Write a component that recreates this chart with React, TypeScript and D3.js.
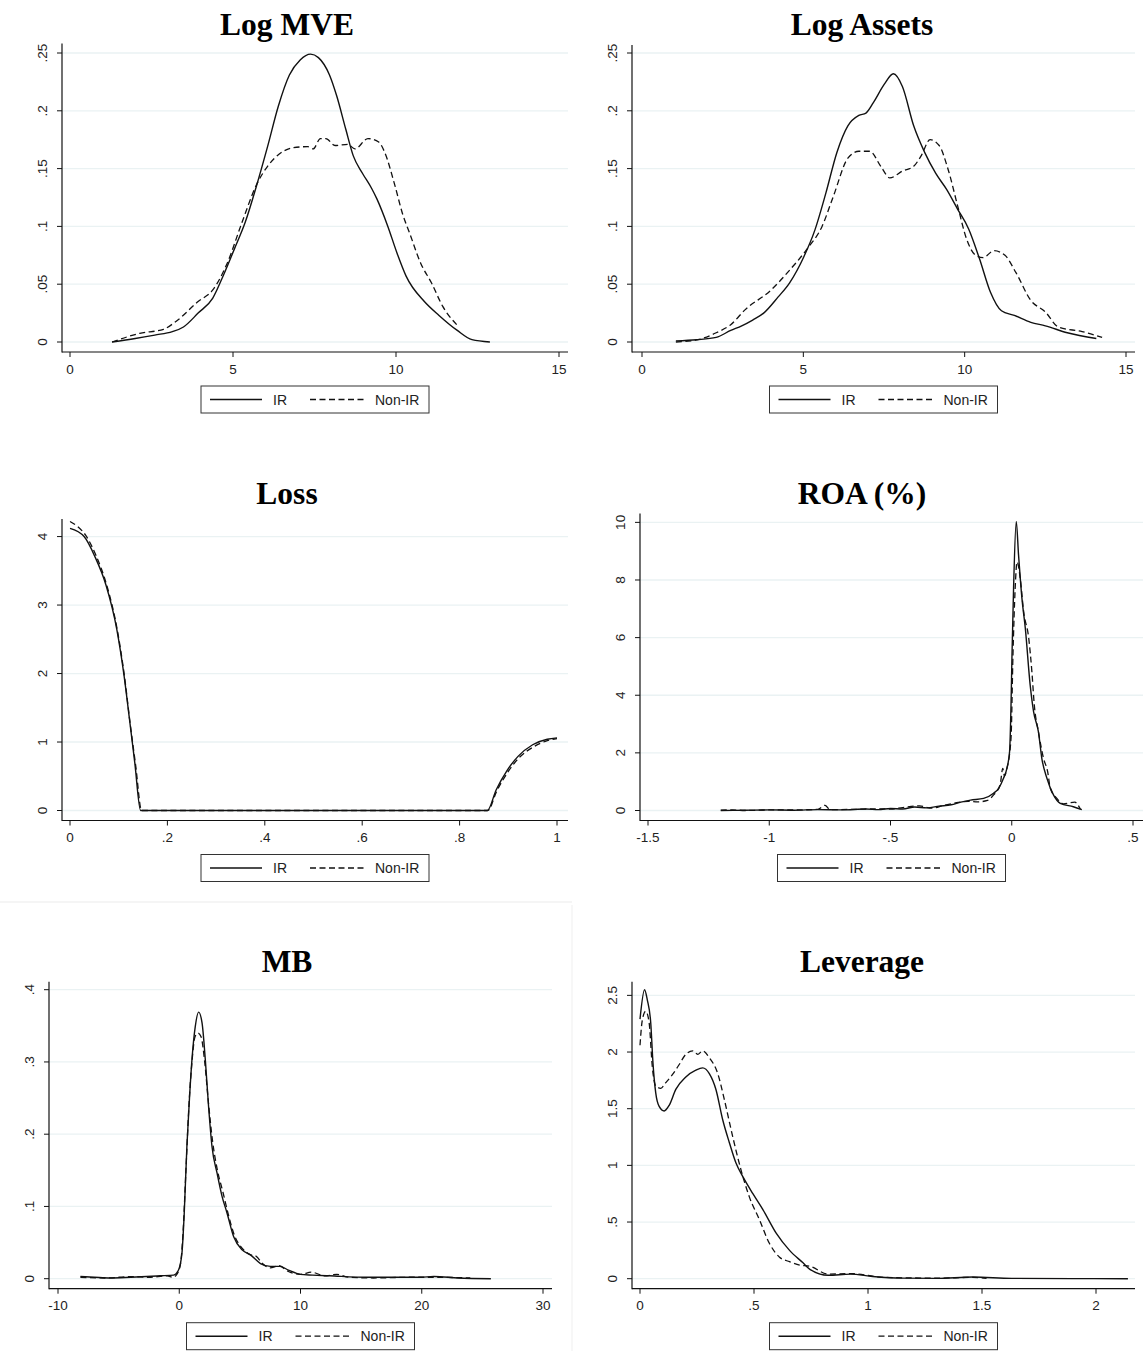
import React from "react";
import * as d3 from "d3";

// kernel density curves, [x, density]
const logMveIR: [number, number][] = [
  [1.29, 0], [2.0, 0.003], [2.6, 0.006], [3.14, 0.009], [3.48, 0.013], [3.93, 0.025], [4.38, 0.038],
  [4.71, 0.058], [5.05, 0.081], [5.38, 0.104], [5.72, 0.135], [6.06, 0.169], [6.39, 0.204], [6.73, 0.231],
  [7.06, 0.244], [7.38, 0.249], [7.62, 0.246], [7.96, 0.231], [8.18, 0.213], [8.46, 0.184], [8.69, 0.161],
  [8.97, 0.146], [9.25, 0.133], [9.41, 0.124], [9.75, 0.1], [10.03, 0.077], [10.31, 0.057], [10.87, 0.035],
  [11.32, 0.023], [11.88, 0.01], [12.33, 0.002], [12.88, 0],
];
const logMveNon: [number, number][] = [
  [1.29, 0], [2.14, 0.0075], [2.87, 0.011], [3.26, 0.018], [3.93, 0.035], [4.38, 0.045], [4.82, 0.068],
  [5.27, 0.103], [5.72, 0.136], [6.06, 0.152], [6.39, 0.162], [6.84, 0.168], [7.29, 0.169], [7.46, 0.167],
  [7.68, 0.176], [7.85, 0.176], [8.13, 0.17], [8.52, 0.171], [8.74, 0.167], [9.14, 0.176], [9.47, 0.173],
  [9.64, 0.165], [9.97, 0.135], [10.2, 0.111], [10.42, 0.094], [10.76, 0.068], [11.09, 0.051], [11.43, 0.031],
  [11.86, 0.015],
];
const logAssetsIR: [number, number][] = [
  [1.05, 0.001], [1.7, 0.002], [2.3, 0.004], [2.75, 0.01], [3.09, 0.014], [3.43, 0.019], [3.77, 0.025],
  [4.22, 0.039], [4.57, 0.051], [5.02, 0.074], [5.36, 0.097], [5.7, 0.129], [6.04, 0.164], [6.38, 0.187],
  [6.72, 0.196], [6.94, 0.198], [7.17, 0.207], [7.51, 0.223], [7.79, 0.232], [8.07, 0.221], [8.42, 0.187],
  [8.76, 0.164], [9.1, 0.146], [9.44, 0.132], [9.78, 0.115], [10.12, 0.098], [10.46, 0.072], [10.8, 0.043],
  [11.14, 0.027], [11.54, 0.023], [12.05, 0.017], [12.5, 0.014], [13.18, 0.008], [14.08, 0.003],
];
const logAssetsNon: [number, number][] = [
  [1.05, 0], [1.73, 0.002], [2.3, 0.008], [2.75, 0.015], [3.2, 0.028], [4.0, 0.045], [4.57, 0.062],
  [5.13, 0.081], [5.58, 0.1], [5.93, 0.126], [6.38, 0.159], [6.72, 0.165], [7.06, 0.165], [7.4, 0.152],
  [7.68, 0.142], [8.08, 0.148], [8.42, 0.152], [8.65, 0.161], [8.93, 0.175], [9.21, 0.17], [9.49, 0.149],
  [9.78, 0.118], [10.06, 0.089], [10.34, 0.075], [10.57, 0.073], [10.91, 0.079], [11.25, 0.075],
  [11.59, 0.06], [12.05, 0.036], [12.5, 0.026], [12.9, 0.013], [13.64, 0.009], [14.26, 0.004],
];
const lossIR: [number, number][] = [
  [0, 4.12], [0.029, 4.0], [0.051, 3.71], [0.074, 3.29], [0.096, 2.65], [0.111, 1.97], [0.122, 1.34],
  [0.133, 0.7], [0.145, 0], [0.857, 0], [0.875, 0.3], [0.898, 0.59], [0.92, 0.79], [0.95, 0.96],
  [0.98, 1.04], [1.0, 1.06],
];
const lossNon: [number, number][] = [
  [0, 4.22], [0.015, 4.15], [0.032, 4.02], [0.053, 3.73], [0.075, 3.3], [0.097, 2.64], [0.112, 1.95],
  [0.123, 1.3], [0.135, 0.65], [0.147, 0], [0.858, 0], [0.876, 0.28], [0.9, 0.57], [0.922, 0.77],
  [0.952, 0.93], [0.98, 1.02], [1.0, 1.05],
];
const roaIR: [number, number][] = [
  [-1.2, 0], [-1.1, 0.01], [-1.0, 0.02], [-0.9, 0.01], [-0.8, 0.03], [-0.7, 0.02], [-0.6, 0.05],
  [-0.55, 0.03], [-0.5, 0.07], [-0.45, 0.05], [-0.4, 0.12], [-0.35, 0.09], [-0.3, 0.15], [-0.25, 0.2],
  [-0.21, 0.29], [-0.17, 0.36], [-0.116, 0.42], [-0.075, 0.6], [-0.054, 0.77], [-0.034, 1.12],
  [-0.02, 1.46], [-0.009, 2.04], [-0.003, 3.66], [0.001, 5.4], [0.0075, 7.71], [0.0185, 10.03],
  [0.028, 8.87], [0.042, 7.36], [0.056, 6.32], [0.076, 4.35], [0.09, 3.43], [0.11, 2.73], [0.124, 1.81],
  [0.145, 1.12], [0.172, 0.54], [0.2, 0.25], [0.254, 0.13], [0.289, 0.03],
];
const roaNon: [number, number][] = [
  [-1.2, 0.01], [-1.15, 0.02], [-1.1, 0], [-1.0, 0.02], [-0.9, 0.02], [-0.8, 0.04], [-0.77, 0.18],
  [-0.75, 0.03], [-0.65, 0.04], [-0.55, 0.06], [-0.5, 0.05], [-0.45, 0.1], [-0.38, 0.16], [-0.33, 0.08],
  [-0.28, 0.18], [-0.22, 0.28], [-0.18, 0.32], [-0.14, 0.3], [-0.1, 0.35], [-0.075, 0.54], [-0.048, 0.89],
  [-0.037, 1.46], [-0.03, 1.2], [-0.02, 1.46], [-0.003, 2.51], [0.005, 5.4], [0.014, 7.7], [0.022, 8.63],
  [0.035, 8.06], [0.049, 6.9], [0.07, 5.98], [0.083, 4.82], [0.093, 3.66], [0.11, 2.73], [0.131, 1.81],
  [0.148, 1.35], [0.159, 0.77], [0.186, 0.42], [0.213, 0.23], [0.26, 0.29], [0.283, 0.05],
];
const mbIR: [number, number][] = [
  [-8.15, 0.003], [-7, 0.002], [-5.7, 0.001], [-4, 0.002], [-2.7, 0.003], [-1.57, 0.004], [-0.47, 0.005],
  [-0.06, 0.012], [0.22, 0.035], [0.41, 0.09], [0.63, 0.183], [0.85, 0.252], [1.07, 0.308], [1.32, 0.349],
  [1.6, 0.369], [1.88, 0.354], [2.15, 0.303], [2.42, 0.238], [2.7, 0.183], [3.12, 0.146], [3.53, 0.114],
  [3.94, 0.091], [4.49, 0.058], [5.18, 0.04], [5.87, 0.033], [6.7, 0.021], [7.52, 0.017], [8.3, 0.017],
  [9.0, 0.012], [9.97, 0.006], [11, 0.005], [12.4, 0.004], [15.4, 0.002], [17.5, 0.002], [19.9, 0.002],
  [21, 0.003], [23, 0.001], [25.7, 0],
];
const mbNon: [number, number][] = [
  [-8.15, 0.002], [-6, 0.001], [-4, 0.003], [-2.5, 0.002], [-1, 0.004], [-0.5, 0.002], [-0.2, 0.006],
  [0.1, 0.02], [0.3, 0.06], [0.55, 0.15], [0.8, 0.24], [1.05, 0.3], [1.3, 0.335], [1.55, 0.34],
  [1.8, 0.335], [2.1, 0.3], [2.4, 0.245], [2.75, 0.19], [3.15, 0.15], [3.6, 0.12], [4.0, 0.092],
  [4.55, 0.06], [5.2, 0.042], [5.9, 0.033], [6.35, 0.031], [6.8, 0.022], [7.5, 0.015], [8.2, 0.018],
  [9.0, 0.01], [10.0, 0.006], [10.9, 0.009], [12, 0.004], [13, 0.006], [14, 0.002], [16, 0.001],
  [19, 0.002], [21, 0.002], [24, 0.001],
];
const leverageIR: [number, number][] = [
  [0, 2.29], [0.02, 2.55], [0.032, 2.46], [0.047, 2.26], [0.057, 1.9], [0.069, 1.64], [0.084, 1.52],
  [0.106, 1.48], [0.128, 1.53], [0.157, 1.67], [0.201, 1.78], [0.245, 1.84], [0.275, 1.86], [0.304, 1.81],
  [0.333, 1.67], [0.363, 1.4], [0.392, 1.2], [0.421, 1.02], [0.451, 0.9], [0.495, 0.75], [0.539, 0.61],
  [0.598, 0.4], [0.656, 0.25], [0.715, 0.14], [0.745, 0.083], [0.826, 0.03], [0.923, 0.04], [1.02, 0.02],
  [1.15, 0.005], [1.3, 0.003], [1.46, 0.015], [1.63, 0.003], [1.9, 0.001], [2.14, 0],
];
const leverageNon: [number, number][] = [
  [0, 2.06], [0.01, 2.28], [0.025, 2.36], [0.04, 2.26], [0.054, 1.87], [0.069, 1.7], [0.091, 1.68],
  [0.113, 1.73], [0.142, 1.8], [0.172, 1.89], [0.201, 1.98], [0.231, 2.01], [0.253, 1.98], [0.275, 2.01],
  [0.304, 1.95], [0.341, 1.81], [0.37, 1.58], [0.407, 1.25], [0.443, 0.96], [0.48, 0.72], [0.524, 0.52],
  [0.568, 0.31], [0.612, 0.19], [0.656, 0.15], [0.7, 0.12], [0.745, 0.11], [0.826, 0.04], [0.923, 0.045],
  [1.07, 0.012], [1.31, 0.005], [1.46, 0.012], [1.52, 0.003],
];

// tick values
const logXTicks = [0, 5, 10, 15];
const logYTicks = [0, 0.05, 0.1, 0.15, 0.2, 0.25];
const lossXTicks = [0, 0.2, 0.4, 0.6, 0.8, 1];
const lossYTicks = [0, 1, 2, 3, 4];
const roaXTicks = [-1.5, -1, -0.5, 0, 0.5];
const roaYTicks = [0, 2, 4, 6, 8, 10];
const mbXTicks = [-10, 0, 10, 20, 30];
const mbYTicks = [0, 0.1, 0.2, 0.3, 0.4];
const levXTicks = [0, 0.5, 1, 1.5, 2];
const levYTicks = [0, 0.5, 1, 1.5, 2, 2.5];

const legendLabels = ["IR", "Non-IR"];

// layout of each panel (pixels)
const panels = [
  { title: "Log MVE", ir: logMveIR, non: logMveNon, xt: logXTicks, yt: logYTicks, top: 0, axTop: 43.5, cx: 287, axisX: 62, x0: 70, x1: 559, right: 568 },
  { title: "Log Assets", ir: logAssetsIR, non: logAssetsNon, xt: logXTicks, yt: logYTicks, top: 0, axTop: 45, cx: 862, axisX: 632, x0: 642, x1: 1126, right: 1135 },
  { title: "Loss", ir: lossIR, non: lossNon, xt: lossXTicks, yt: lossYTicks, top: 468.5, axTop: 50.5, cx: 287, axisX: 62, x0: 70, x1: 557, right: 568 },
  { title: "ROA (%)", ir: roaIR, non: roaNon, xt: roaXTicks, yt: roaYTicks, top: 468.5, axTop: 45, cx: 862, axisX: 640, x0: 648, x1: 1133, right: 1143 },
  { title: "MB", ir: mbIR, non: mbNon, xt: mbXTicks, yt: mbYTicks, top: 936.7, axTop: 45, cx: 287, axisX: 49, x0: 58, x1: 543, right: 552 },
  { title: "Leverage", ir: leverageIR, non: leverageNon, xt: levXTicks, yt: levYTicks, top: 936.7, axTop: 45, cx: 862, axisX: 632, x0: 640, x1: 1096, right: 1135 },
];

const fmt = (v: number) => {
  const s = String(+v.toFixed(4));
  return s.replace(/^0\./, ".").replace(/^-0\./, "-.");
};

const INK = "#111";
const GRID = "#eaf2f3";
const SANS = "'Liberation Sans', Arial, sans-serif";

function Panel({ p }: { p: (typeof panels)[number] }) {
  const t = p.top;
  const x = d3.scaleLinear().domain([p.xt[0], p.xt[p.xt.length - 1]]).range([p.x0, p.x1]);
  const yMax = Math.max(d3.max(p.yt)!, d3.max(p.ir, (d) => d[1])!, d3.max(p.non, (d) => d[1])!);
  const y = d3.scaleLinear().domain([0, yMax]).range([t + 342, t + 53]);
  const line = d3
    .line<[number, number]>()
    .x((d) => x(d[0]))
    .y((d) => y(d[1]))
    .curve(d3.curveMonotoneX);
  const legW = 228;
  const legX = (p.axisX + p.right) / 2 - legW / 2;
  const legY = t + 386;
  return (
    <g>
      <text x={p.cx} y={t + 35} textAnchor="middle" fontFamily="'Liberation Serif', 'Times New Roman', serif" fontWeight="bold" fontSize={31.5} fill="#000">
        {p.title}
      </text>
      {p.yt.map((v) => (
        <line key={"g" + v} x1={p.axisX} x2={p.right} y1={y(v)} y2={y(v)} stroke={GRID} strokeWidth={1.3} />
      ))}
      <line x1={p.axisX} x2={p.axisX} y1={t + p.axTop} y2={t + 352.5} stroke={INK} strokeWidth={1.2} />
      <line x1={p.axisX} x2={p.right} y1={t + 352} y2={t + 352} stroke={INK} strokeWidth={1.2} />
      {p.yt.map((v) => (
        <g key={"y" + v}>
          <line x1={p.axisX - 5} x2={p.axisX} y1={y(v)} y2={y(v)} stroke={INK} strokeWidth={1} />
          <text transform={`translate(${p.axisX - 15},${y(v)}) rotate(-90)`} textAnchor="middle" fontFamily={SANS} fontSize={13.5} fill="#222">
            {fmt(v)}
          </text>
        </g>
      ))}
      {p.xt.map((v) => (
        <g key={"x" + v}>
          <line x1={x(v)} x2={x(v)} y1={t + 352} y2={t + 357} stroke={INK} strokeWidth={1} />
          <text x={x(v)} y={t + 373.5} textAnchor="middle" fontFamily={SANS} fontSize={13.5} fill="#222">
            {fmt(v)}
          </text>
        </g>
      ))}
      <path d={line(p.ir) ?? ""} fill="none" stroke={INK} strokeWidth={1.4} />
      <path d={line(p.non) ?? ""} fill="none" stroke={INK} strokeWidth={1.3} strokeDasharray="6,3.5" />
      <rect x={legX} y={legY} width={legW} height={27} fill="#fff" stroke="#333" strokeWidth={1} />
      <line x1={legX + 9} x2={legX + 61} y1={legY + 13.5} y2={legY + 13.5} stroke={INK} strokeWidth={1.4} />
      <text x={legX + 72} y={legY + 18.5} fontFamily={SANS} fontSize={14} fill="#222">
        {legendLabels[0]}
      </text>
      <line x1={legX + 109} x2={legX + 165} y1={legY + 13.5} y2={legY + 13.5} stroke={INK} strokeWidth={1.3} strokeDasharray="6,3.5" />
      <text x={legX + 174} y={legY + 18.5} fontFamily={SANS} fontSize={14} fill="#222">
        {legendLabels[1]}
      </text>
    </g>
  );
}

export default function App() {
  return (
    <svg width={1143} height={1351} style={{ position: "absolute", left: 0, top: 0, background: "#fff" }}>
      <rect width={1143} height={1351} fill="#fff" />
      <line x1={0} x2={572} y1={902} y2={902} stroke="#f2f2f2" strokeWidth={1.5} />
      <line x1={572} x2={572} y1={905} y2={1351} stroke="#f4f4f4" strokeWidth={1.5} />
      {panels.map((p) => (
        <Panel key={p.title} p={p} />
      ))}
    </svg>
  );
}
